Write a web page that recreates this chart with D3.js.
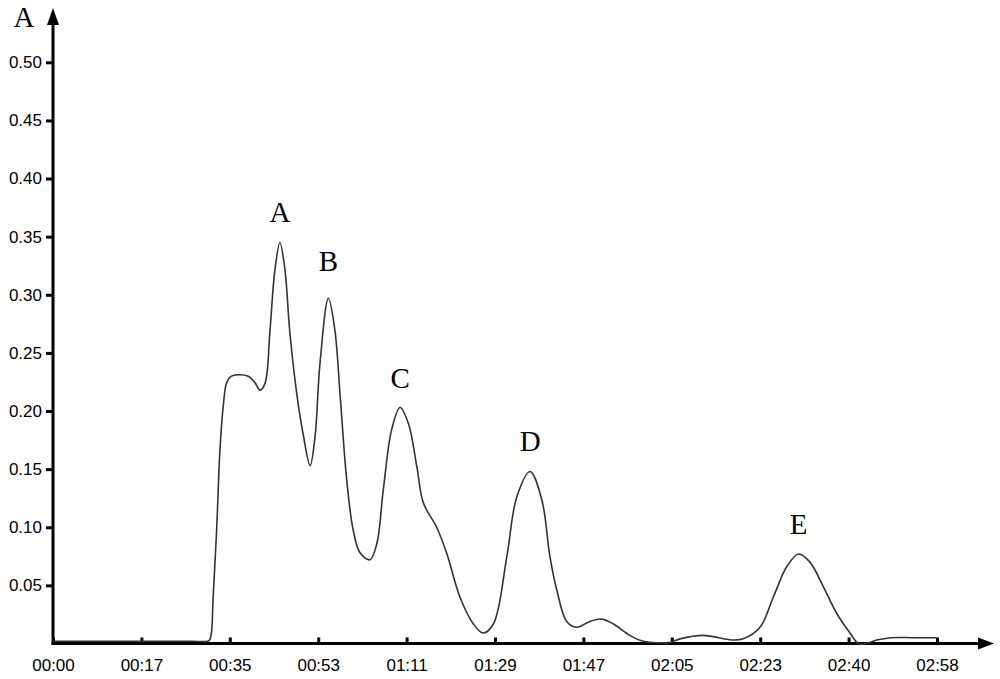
<!DOCTYPE html>
<html>
<head>
<meta charset="utf-8">
<script src="https://cdn.jsdelivr.net/npm/d3@7"></script>
<style>
  body { margin: 0; background: #fff; }
  svg { display: block; }
  .tick text { font-family: "Liberation Sans", Arial, sans-serif; font-size: 17px; fill: #000; }
  .peak { font-family: "Liberation Serif", "Times New Roman", serif; font-size: 29px; fill: #000; }
</style>
</head>
<body>
<svg width="1000" height="679"></svg>
<script>
// retention time (s) and absorbance
var times = [0, 15, 28, 31.3, 31.8, 32.4, 33.1, 33.8, 34.5, 35.1, 36.1, 39.5, 40.9, 41.9, 42.9, 43.9, 44.9, 45.9,
  46.9, 47.9, 49.3, 50.6, 52.0, 53.0, 54.0, 55.7, 57.0, 58.1, 59.4, 60.7, 62.1, 64.1, 65.5, 66.8,
  68.5, 70.2, 71.9, 73.6, 74.9, 77.6, 79.6, 82.3, 85.0, 87.0, 89.1, 91.8, 93.8, 96.5, 98.9, 100.5,
  101.9, 103.9, 105.9, 108.6, 111.0, 113.3, 116.7, 119.4, 124.8, 126.8, 131.5, 137.6, 139.6, 143.0,
  145.7, 148.4, 150.8, 153.1, 155.8, 158.5, 161.2, 162.9, 164.6, 166.6, 169.6, 174.0, 178.7];
var absorbance = [0.002, 0.002, 0.002, 0.002, 0.004, 0.040, 0.098, 0.169, 0.207, 0.224, 0.230, 0.230, 0.224, 0.218, 0.224, 0.270, 0.322, 0.345,
  0.322, 0.268, 0.215, 0.180, 0.153, 0.178, 0.241, 0.297, 0.270, 0.212, 0.141, 0.098, 0.078, 0.072, 0.086, 0.132,
  0.184, 0.203, 0.189, 0.152, 0.121, 0.100, 0.078, 0.040, 0.017, 0.009, 0.017, 0.075, 0.126, 0.148, 0.123, 0.075,
  0.046, 0.019, 0.014, 0.019, 0.021, 0.017, 0.007, 0.002, 0.001, 0.004, 0.007, 0.003, 0.004, 0.014,
  0.040, 0.066, 0.077, 0.070, 0.049, 0.026, 0.009, 0.000, 0.000, 0.003, 0.005, 0.005, 0.005];

var xTickTimes = [0, 17.88, 35.76, 53.64, 71.52, 89.4, 107.28, 125.16, 143.04, 160.92, 178.8];
var xTickLabels = ["00:00", "00:17", "00:35", "00:53", "01:11", "01:29", "01:47", "02:05", "02:23", "02:40", "02:58"];
var yTicks = [0.05, 0.10, 0.15, 0.20, 0.25, 0.30, 0.35, 0.40, 0.45, 0.50];

var peakNames = ["A", "B", "C", "D", "E"];
var peakTimes = [45.9, 55.7, 70.2, 96.5, 150.8];
var peakValues = [0.345, 0.297, 0.203, 0.148, 0.077];

var svg = d3.select("svg");

var x = d3.scaleLinear().domain([0, 178.8]).range([53, 937]);
var y = d3.scaleLinear().domain([0, 0.5]).range([643.5, 62.3]);

// x axis
var xAxis = svg.append("g")
    .attr("transform", "translate(0," + y(0) + ")")
    .call(d3.axisBottom(x)
      .tickValues(xTickTimes)
      .tickFormat(function(d, i) { return xTickLabels[i]; })
      .tickSizeInner(-6).tickSizeOuter(0).tickPadding(15));
xAxis.select(".domain").remove();
xAxis.selectAll(".tick line").attr("stroke", "#000").attr("stroke-width", 3);

// y axis
var yAxis = svg.append("g")
    .attr("transform", "translate(" + x(0) + ",0)")
    .call(d3.axisLeft(y)
      .tickValues(yTicks)
      .tickFormat(d3.format(".2f"))
      .tickSizeInner(7).tickSizeOuter(0).tickPadding(4));
yAxis.select(".domain").remove();
yAxis.selectAll(".tick line").attr("stroke", "#000").attr("stroke-width", 3);

// axis lines with arrow heads
svg.append("line")
    .attr("x1", x(0) - 1.5).attr("x2", 980)
    .attr("y1", y(0)).attr("y2", y(0))
    .attr("stroke", "#000").attr("stroke-width", 3);
svg.append("path")
    .attr("d", "M994," + y(0) + "L978," + (y(0) - 6) + "L978," + (y(0) + 6) + "Z")
    .attr("fill", "#000");
svg.append("line")
    .attr("x1", x(0)).attr("x2", x(0))
    .attr("y1", y(0) + 1.5).attr("y2", 22)
    .attr("stroke", "#000").attr("stroke-width", 3);
svg.append("path")
    .attr("d", "M" + x(0) + ",8L" + (x(0) - 6) + ",25L" + (x(0) + 6) + ",25Z")
    .attr("fill", "#000");

svg.append("text")
    .attr("class", "peak")
    .attr("x", 24).attr("y", 27)
    .attr("text-anchor", "middle")
    .text("A");

// trace
var line = d3.line()
    .x(function(d, i) { return x(times[i]); })
    .y(function(d) { return y(d); })
    .curve(d3.curveCatmullRom.alpha(0.5));

svg.append("path")
    .datum(absorbance)
    .attr("fill", "none")
    .attr("stroke", "#333")
    .attr("stroke-width", 1.6)
    .attr("d", line);

// peak labels
svg.selectAll("text.peakLabel")
    .data(peakNames)
    .enter().append("text")
    .attr("class", "peak peakLabel")
    .attr("text-anchor", "middle")
    .attr("x", function(d, i) { return x(peakTimes[i]); })
    .attr("y", function(d, i) { return y(peakValues[i]) - (i == 1 ? 27 : 20); })
    .text(function(d) { return d; });
</script>
</body>
</html>
